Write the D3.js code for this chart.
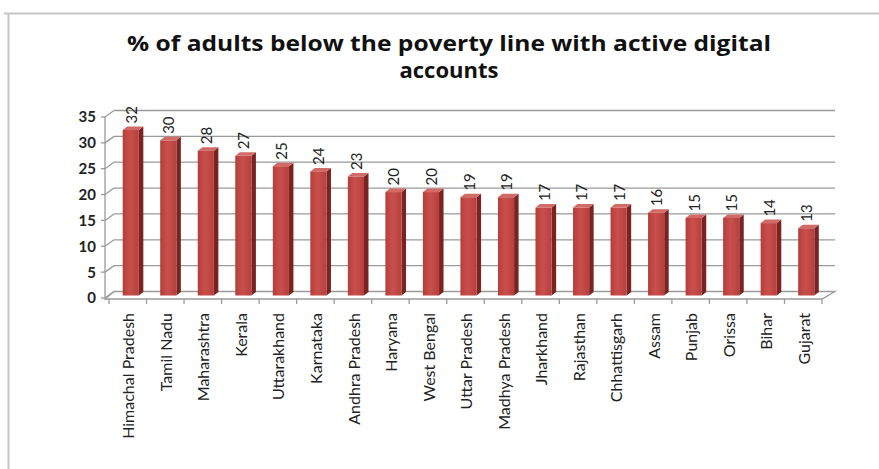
<!DOCTYPE html>
<html>
<head>
<meta charset="utf-8">
<script src="https://cdn.jsdelivr.net/npm/d3@7/dist/d3.min.js"></script>
<style>
  html, body { margin: 0; padding: 0; background: #fff; }
  svg { display: block; }
</style>
</head>
<body>
<svg id="chart" width="879" height="469"></svg>
<script>
// Share of adults below the poverty line with active digital accounts, by state
const states = [
  "Himachal Pradesh", "Tamil Nadu", "Maharashtra", "Kerala", "Uttarakhand",
  "Karnataka", "Andhra Pradesh", "Haryana", "West Bengal", "Uttar Pradesh",
  "Madhya Pradesh", "Jharkhand", "Rajasthan", "Chhattisgarh", "Assam",
  "Punjab", "Orissa", "Bihar", "Gujarat"
];
const percentages = [32, 30, 28, 27, 25, 24, 23, 20, 20, 19, 19, 17, 17, 17, 16, 15, 15, 14, 13];
const yTicks = [0, 5, 10, 15, 20, 25, 30, 35];
const titleLines = ["% of adults below the poverty line with active digital", "accounts"];

const svg = d3.select("#chart");

// outer chart frame (top and left edges visible)
svg.append("path")
  .attr("d", "M4,13.5 H879 M8.5,13 V469")
  .attr("stroke", "#c4c4c4").attr("stroke-width", 2).attr("fill", "none");

// title, two centred lines
const titleWidths = [644, 99];
titleLines.forEach((t, i) => {
  svg.append("text")
    .attr("x", 449).attr("y", 51 + i * 27)
    .attr("text-anchor", "middle")
    .attr("font-family", "'Open Sans', Lato, sans-serif")
    .attr("font-weight", "bold").attr("font-size", 21)
    .attr("textLength", titleWidths[i])
    .attr("lengthAdjust", "spacingAndGlyphs")
    .attr("fill", "#111")
    .text(t);
});

// plot geometry: front plane and a receding back wall
const x0 = 109, x1 = 822;
const depthX = 9, depthY = -6.5;

const x = d3.scaleBand().domain(states).range([x0, x1]).paddingInner(0.57).paddingOuter(0.285);
const xEdge = d3.scalePoint().domain(d3.range(states.length + 1)).range([x0, x1]);
const y = d3.scaleLinear().domain([0, 35]).range([298, 117]);

const grid = svg.append("g").attr("stroke", "#9a9a9a").attr("stroke-width", 1.3).attr("fill", "none");

// back wall gridlines and side-wall diagonals
yTicks.forEach(v => {
  const yf = y(v), yb = y(v) + depthY;
  if (v > 0) {
    grid.append("line").attr("x1", x0 - 4 + depthX).attr("x2", x1 + depthX + 4)
      .attr("y1", yb).attr("y2", yb);
  }
  grid.append("line").attr("x1", x0 - 4).attr("y1", yf)
    .attr("x2", x0 - 4 + depthX).attr("y2", yb);
});

// floor
const yFloor = y(0);
grid.append("path").attr("d",
  `M${x0 - 4 + depthX},${yFloor + depthY} H${x1 + depthX + 4} L${x1},${yFloor + 1} H${x0 - 4} Z`);
// front left axis
grid.append("line").attr("x1", x0 - 4).attr("x2", x0 - 4)
  .attr("y1", y(35)).attr("y2", yFloor);
// y tick marks
yTicks.forEach(v => {
  grid.append("line").attr("x1", x0 - 8).attr("x2", x0 - 4).attr("y1", y(v)).attr("y2", y(v));
});
// category tick marks on the floor edge
d3.range(states.length + 1).forEach(i => {
  grid.append("line").attr("x1", xEdge(i)).attr("x2", xEdge(i))
    .attr("y1", yFloor + 1).attr("y2", yFloor + 6);
});

// y axis labels
svg.append("g")
  .selectAll("text").data(yTicks).join("text")
  .attr("x", 96).attr("y", d => y(d))
  .attr("dy", "0.36em")
  .attr("text-anchor", "end")
  .attr("font-family", "Lato, 'Open Sans', sans-serif")
  .attr("font-weight", "bold").attr("font-size", 15)
  .attr("fill", "#222")
  .text(d => d);

// bar shading
const defs = svg.append("defs");
const grad = defs.append("linearGradient").attr("id", "barFront").attr("x1", 0).attr("x2", 1).attr("y1", 0).attr("y2", 0);
grad.append("stop").attr("offset", 0).attr("stop-color", "#b43e3b");
grad.append("stop").attr("offset", 0.45).attr("stop-color", "#c94f4c");
grad.append("stop").attr("offset", 1).attr("stop-color", "#b5403e");

// 3D columns set a little behind the front plane
const barShiftX = 3, barShiftY = -2.5;
const barDX = 4.5, barDY = -3.5;
const bars = svg.append("g");
states.forEach((s, i) => {
  const v = percentages[i];
  const bx = x(s) + barShiftX;
  const bw = x.bandwidth();
  const top = y(v) + barShiftY;
  const bottom = y(0) + barShiftY;
  const g = bars.append("g");
  // side face
  g.append("path")
    .attr("d", `M${bx + bw},${top} L${bx + bw + barDX},${top + barDY} L${bx + bw + barDX},${bottom + barDY} L${bx + bw},${bottom} Z`)
    .attr("fill", "#7a2321");
  // top face
  g.append("path")
    .attr("d", `M${bx},${top} L${bx + barDX},${top + barDY} L${bx + bw + barDX},${top + barDY} L${bx + bw},${top} Z`)
    .attr("fill", "#d26a67");
  // front face
  g.append("rect")
    .attr("x", bx).attr("y", top).attr("width", bw).attr("height", bottom - top)
    .attr("fill", "url(#barFront)");
});

// value labels, rotated above each column
svg.append("g")
  .selectAll("text").data(states).join("text")
  .attr("transform", (s, i) => `translate(${x(s) + barShiftX + x.bandwidth() / 2 + 6},${y(percentages[i]) - 9}) rotate(-90)`)
  .attr("font-family", "Lato, 'Open Sans', sans-serif")
  .attr("font-size", 15)
  .attr("fill", "#222")
  .text((s, i) => percentages[i]);

// category labels
svg.append("g")
  .selectAll("text").data(states).join("text")
  .attr("transform", s => `translate(${x(s) + x.bandwidth() / 2 + 1},${313}) rotate(-90)`)
  .attr("text-anchor", "end")
  .attr("dy", "0.35em")
  .attr("font-family", "Lato, 'Open Sans', sans-serif")
  .attr("font-size", 16)
  .attr("fill", "#222")
  .text(s => s);
</script>
</body>
</html>
